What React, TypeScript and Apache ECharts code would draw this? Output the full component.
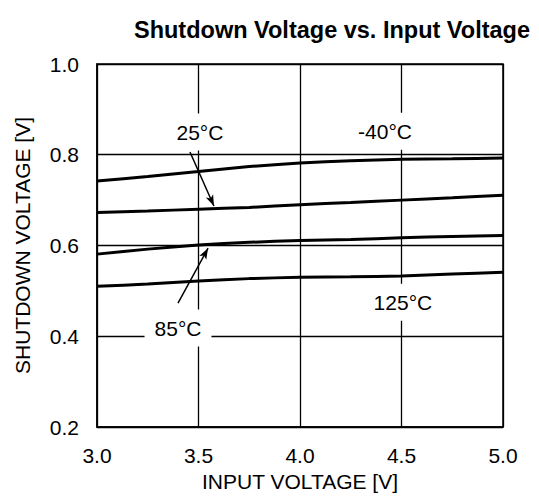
import React, { useEffect, useRef } from "react";
import * as echarts from "echarts";

const xValues = [3.0, 3.25, 3.5, 3.75, 4.0, 4.25, 4.5, 4.75, 5.0];
const tMinus40 = [0.742, 0.752, 0.763, 0.774, 0.782, 0.787, 0.790, 0.791, 0.793];
const t25 = [0.673, 0.676, 0.680, 0.684, 0.690, 0.695, 0.700, 0.705, 0.711];
const t85 = [0.581, 0.592, 0.601, 0.607, 0.611, 0.613, 0.617, 0.620, 0.622];
const t125 = [0.510, 0.515, 0.522, 0.527, 0.530, 0.531, 0.533, 0.537, 0.541];

const seriesNames = ["-40°C", "25°C", "85°C", "125°C"];
const seriesValues = [tMinus40, t25, t85, t125];

// label anchors (data coordinates)
const labelPos: [number, number][] = [
  [4.419, 0.852],
  [3.507, 0.85],
  [3.399, 0.418],
  [4.507, 0.475],
];
// arrows (data coordinates): [from, to]
const arrow25: [number, number][] = [
  [3.458, 0.806],
  [3.576, 0.687],
];
const arrow85: [number, number][] = [
  [3.399, 0.473],
  [3.547, 0.594],
];

const FONT = "'Liberation Sans', Arial, sans-serif";

export default function App() {
  const ref = useRef<HTMLDivElement>(null);
  useEffect(() => {
    if (!ref.current) return;
    const chart = echarts.init(ref.current, null, { renderer: "svg" });
    const lineSeries = seriesValues.map((vals, i) => ({
      type: "line",
      name: seriesNames[i],
      data: xValues.map((x, j) => [x, vals[j]]),
      showSymbol: false,
      smooth: 0.2,
      lineStyle: { color: "#000", width: 3 },
      z: 3,
    }));
    const labelSeries = {
      type: "scatter",
      data: [],
      silent: true,
      markPoint: {
        symbol: "rect",
        symbolSize: 0,
        silent: true,
        label: {
          show: true,
          position: "inside",
          formatter: (p: any) => p.name,
          color: "#000",
          fontSize: 21,
          fontFamily: FONT,
          backgroundColor: "#fff",
          padding: [8, 10],
        },
        data: seriesNames.map((n, i) => ({ name: n, coord: labelPos[i] })),
      },
      markLine: {
        silent: true,
        symbol: ["none", "arrow"],
        symbolSize: [6, 11],
        label: { show: false },
        lineStyle: { color: "#000", width: 1.5, type: "solid" },
        data: [
          [{ coord: arrow25[0] }, { coord: arrow25[1] }],
          [{ coord: arrow85[0] }, { coord: arrow85[1] }],
        ],
      },
      z: 5,
    };
    chart.setOption({
      animation: false,
      backgroundColor: "#fff",
      textStyle: { fontFamily: FONT },
      title: {
        text: "Shutdown Voltage vs. Input Voltage",
        left: 327,
        top: 13,
        textAlign: "center",
        textStyle: { fontSize: 23.5, fontWeight: "bold", color: "#000", fontFamily: FONT },
      },
      grid: {
        left: 97,
        right: 36,
        top: 64,
        bottom: 75,
        show: true,
        borderColor: "#000",
        borderWidth: 1.5,
        backgroundColor: "transparent",
      },
      xAxis: {
        type: "value",
        min: 3,
        max: 5,
        interval: 0.5,
        name: "INPUT VOLTAGE [V]",
        nameLocation: "middle",
        nameGap: 40,
        nameTextStyle: { fontSize: 21, color: "#000", fontFamily: FONT },
        axisLine: { show: true, lineStyle: { color: "#000", width: 1.5 } },
        axisTick: { show: false },
        axisLabel: {
          fontSize: 21,
          color: "#000",
          margin: 18,
          fontFamily: FONT,
          formatter: (v: number) => v.toFixed(1),
        },
        splitLine: { show: true, lineStyle: { color: "#000", width: 1.3 } },
      },
      yAxis: {
        type: "value",
        min: 0.2,
        max: 1.0,
        interval: 0.2,
        name: "SHUTDOWN VOLTAGE [V]",
        nameLocation: "middle",
        nameGap: 64,
        nameRotate: 90,
        nameTextStyle: { fontSize: 21, color: "#000", fontFamily: FONT },
        axisLine: { show: true, lineStyle: { color: "#000", width: 1.5 } },
        axisTick: { show: false },
        axisLabel: {
          fontSize: 21,
          color: "#000",
          margin: 18,
          fontFamily: FONT,
          formatter: (v: number) => v.toFixed(1),
        },
        splitLine: { show: true, lineStyle: { color: "#000", width: 1.3 } },
      },
      series: [...lineSeries, labelSeries],
    });
    return () => chart.dispose();
  }, []);
  return (
    <div
      ref={ref}
      style={{ position: "absolute", left: 0, top: 0, width: 539, height: 502 }}
    />
  );
}
